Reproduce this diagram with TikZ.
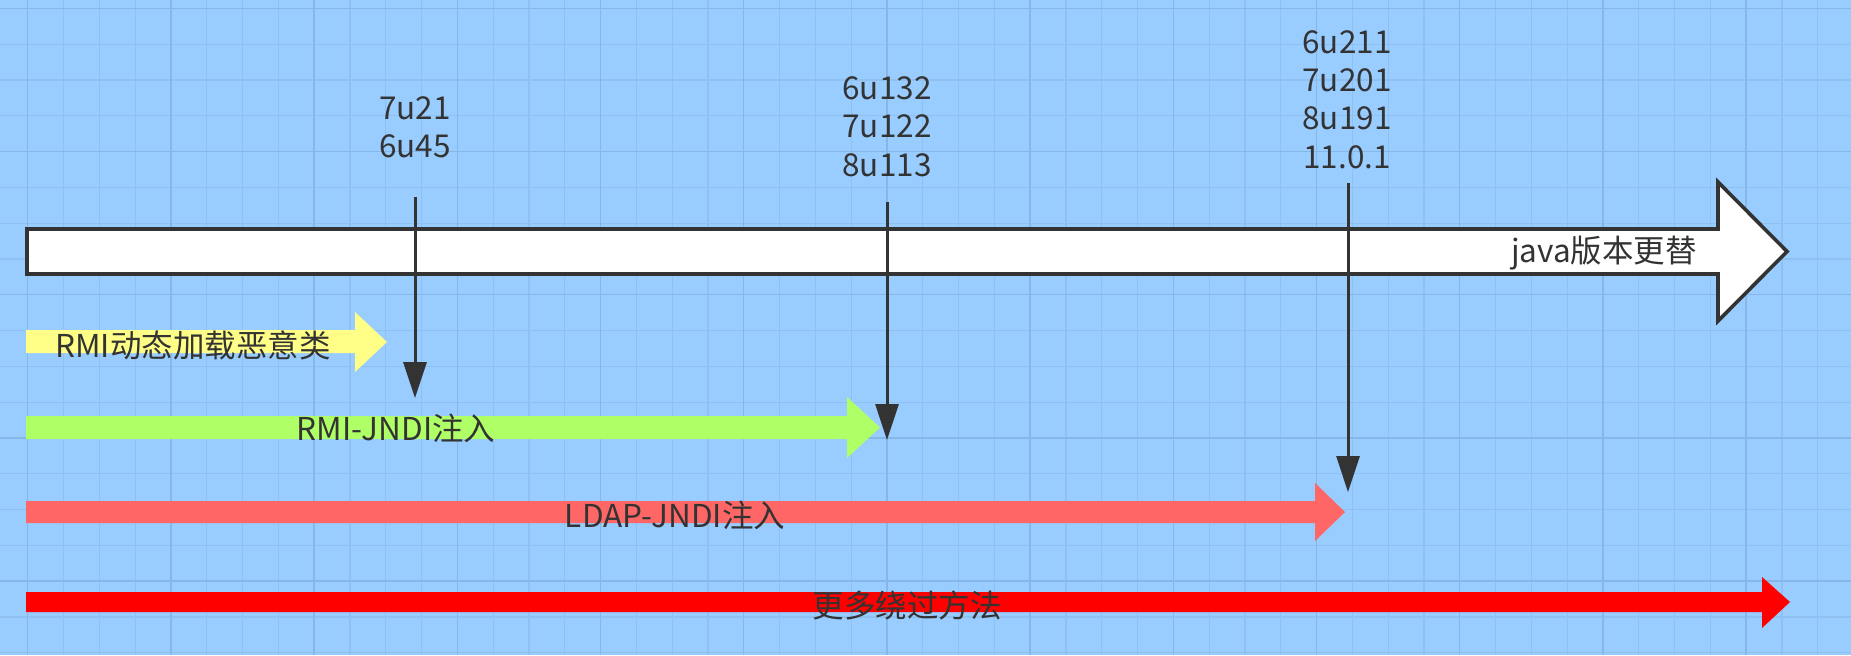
\documentclass[tikz,border=0pt]{standalone}
\usepackage{fontspec}
\setmainfont{Noto Sans CJK SC}
\usetikzlibrary{arrows.meta}
\definecolor{PaperBlue}{HTML}{99CCFF}
\definecolor{GridMinor}{HTML}{8FC0F0}
\definecolor{GridMajor}{HTML}{86B7E7}
\definecolor{InkGray}{HTML}{333333}
\definecolor{BarYellow}{HTML}{FFFF88}
\definecolor{BarGreen}{HTML}{AFFF66}
\definecolor{BarPink}{HTML}{FF6666}
\definecolor{BarRed}{HTML}{FF0000}

\begin{document}
\begin{tikzpicture}[
  x=0.5pt, y=-0.5pt,
  minorgrid/.style={draw=GridMinor, line width=0.6pt},
  majorgrid/.style={draw=GridMajor, line width=0.7pt},
  timeline/.style={draw=InkGray, fill=white, line width=1.8pt, line join=miter},
  verlbl/.style={align=center, inner sep=0pt, text=InkGray,
                 font=\fontsize{15.75}{19.15}\selectfont},
  barlbl/.style={inner sep=0pt, text=InkGray, font=\fontsize{15.75}{19}\selectfont},
  drop/.style={draw=InkGray, line width=1.5pt, -{Triangle[length=18pt, width=11.5pt]}}
]
  \useasboundingbox (0,0) rectangle (1851,655);
  \fill[PaperBlue] (0,0) rectangle (1851,655);

  % grid paper
  \foreach \i in {0,...,51}
    \draw[minorgrid] ({27.7+35.8*\i},0) -- ({27.7+35.8*\i},655);
  \foreach \j in {0,...,18}
    \draw[minorgrid] (0,{8.3+35.8*\j}) -- (1851,{8.3+35.8*\j});
  \foreach \i in {0,4,...,48}
    \draw[majorgrid] ({27.7+35.8*\i},0) -- ({27.7+35.8*\i},655);
  \foreach \j in {0,4,...,16}
    \draw[majorgrid] (0,{8.3+35.8*\j}) -- (1851,{8.3+35.8*\j});

  % version line
  \draw[timeline] (27,229) -- (1718,229) -- (1718,182) -- (1787,251.5)
        -- (1718,321) -- (1718,274) -- (27,274) -- cycle;
  \node[barlbl] (java) at (1604,253) {java版本更替};

  % techniques
  \fill[BarYellow] (26,330) -- (355,330) -- (355,312) -- (387,342)
        -- (355,372) -- (355,353) -- (26,353) -- cycle;
  \node[barlbl] (rmiload) at (193,345) {RMI动态加载恶意类};

  \fill[BarGreen] (26,416) -- (847,416) -- (847,397) -- (880,427.5)
        -- (847,458) -- (847,439) -- (26,439) -- cycle;
  \node[barlbl] (rmijndi) at (396,428) {RMI-JNDI注入};

  \fill[BarPink] (26,501) -- (1315,501) -- (1315,483) -- (1345,512)
        -- (1315,541) -- (1315,523) -- (26,523) -- cycle;
  \node[barlbl] (ldapjndi) at (675,515) {LDAP-JNDI注入};

  \fill[BarRed] (26,592) -- (1762,592) -- (1762,577) -- (1790,602)
        -- (1762,628) -- (1762,612) -- (26,612) -- cycle;
  \node[barlbl] (bypass) at (907,605) {更多绕过方法};

  % fixed versions
  \node[verlbl] (fixa) at (415,127.5) {7u21\\6u45};
  \node[verlbl] (fixb) at (887,126.5) {6u132\\7u122\\8u113};
  \node[verlbl] (fixc) at (1347,99.5) {6u211\\7u201\\8u191\\11.0.1};

  \coordinate (fixatop) at (415,197);
  \coordinate (fixaend) at (415,398);
  \coordinate (fixbtop) at (887,202);
  \coordinate (fixbend) at (887,440);
  \coordinate (fixctop) at (1348,183);
  \coordinate (fixcend) at (1348,492);

  \draw[drop] (fixatop) -- (fixaend);
  \draw[drop] (fixbtop) -- (fixbend);
  \draw[drop] (fixctop) -- (fixcend);
\end{tikzpicture}
\end{document}
